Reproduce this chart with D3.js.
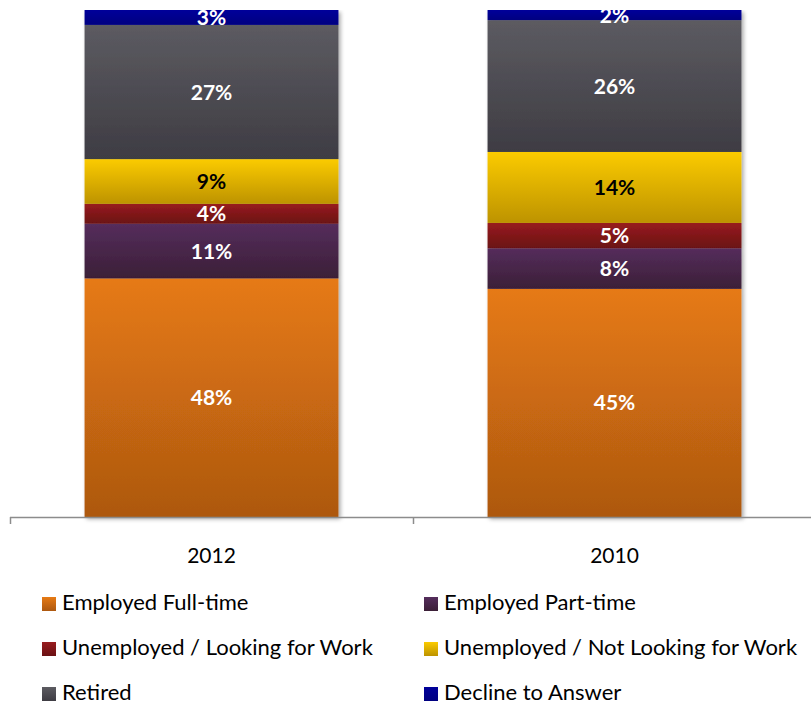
<!DOCTYPE html>
<html>
<head>
<meta charset="utf-8">
<script src="https://cdn.jsdelivr.net/npm/d3@7"></script>
<style>
  html, body { margin: 0; padding: 0; background: #fff; }
  svg { display: block; font-family: Lato, "Open Sans", sans-serif; }
</style>
</head>
<body>
<svg id="chart" width="811" height="704"></svg>
<script>
// Survey years (left to right) and employment status shares, in percent
const years = ["2012", "2010"];
const statuses = [
  "Employed Full-time",
  "Employed Part-time",
  "Unemployed / Looking for Work",
  "Unemployed / Not Looking for Work",
  "Retired",
  "Decline to Answer"
];
const employedFullTime    = [48, 45];
const employedPartTime    = [11, 8];
const unemployedLooking   = [4, 5];
const unemployedNotLooking = [9, 14];
const retired             = [27, 26];
const declineToAnswer     = [3, 2];

const seriesValues = [employedFullTime, employedPartTime, unemployedLooking,
                      unemployedNotLooking, retired, declineToAnswer];

// Gradient stops per status: [top, bottom]
const palette = [
  ["#e67a14", "#ad5810"],
  ["#552d5c", "#3b1f37"],
  ["#981c1f", "#6a1113"],
  ["#fbcb00", "#bd9300"],
  ["#5c5b61", "#3e3c43"],
  ["#00009a", "#000080"]
];
const labelInk = ["#fff", "#fff", "#fff", "#000", "#fff", "#fff"];

const rows = years.map((yr, i) => {
  const r = { year: yr };
  statuses.forEach((s, k) => { r[s] = seriesValues[k][i]; });
  return r;
});

const svg = d3.select("#chart");
const defs = svg.append("defs");

palette.forEach((c, k) => {
  const g = defs.append("linearGradient")
    .attr("id", "grad" + k)
    .attr("x1", 0).attr("y1", 0).attr("x2", 0).attr("y2", 1);
  g.append("stop").attr("offset", "0%").attr("stop-color", c[0]);
  g.append("stop").attr("offset", "100%").attr("stop-color", c[1]);
});

const shadow = defs.append("filter").attr("id", "barShadow")
  .attr("x", "-10%").attr("y", "-10%").attr("width", "130%").attr("height", "130%");
shadow.append("feDropShadow")
  .attr("dx", 2).attr("dy", 2).attr("stdDeviation", 2)
  .attr("flood-color", "#000").attr("flood-opacity", 0.35);

const plotTop = 10, baseline = 517;
defs.append("clipPath").attr("id", "plotClip")
  .append("rect").attr("x", 0).attr("y", plotTop).attr("width", 811).attr("height", baseline - plotTop + 10);

const x = d3.scaleBand().domain(years).range([10, 816]).paddingInner(0).paddingOuter(0);
const y = d3.scaleLinear().domain([0, 1]).range([baseline, plotTop]);
const barWidth = x.bandwidth() * 0.63;

const stacked = d3.stack().keys(statuses).offset(d3.stackOffsetExpand)(rows);

const plot = svg.append("g").attr("clip-path", "url(#plotClip)");

// Shadowed bar stacks
const barGroup = plot.append("g").attr("filter", "url(#barShadow)");
stacked.forEach((layer, k) => {
  barGroup.append("g").selectAll("rect")
    .data(layer)
    .join("rect")
    .attr("x", d => x(d.data.year) + (x.bandwidth() - barWidth) / 2)
    .attr("width", barWidth)
    .attr("y", d => y(d[1]))
    .attr("height", d => y(d[0]) - y(d[1]))
    .attr("fill", `url(#grad${k})`);
});

// Value labels centred in each segment
stacked.forEach((layer, k) => {
  plot.append("g").selectAll("text")
    .data(layer)
    .join("text")
    .attr("x", d => x(d.data.year) + x.bandwidth() / 2)
    .attr("y", d => (y(d[0]) + y(d[1])) / 2)
    .attr("dy", "0.36em")
    .attr("text-anchor", "middle")
    .attr("font-size", 21)
    .attr("font-weight", 700)
    .attr("fill", labelInk[k])
    .text(d => d.data[layer.key] + "%");
});

// Category axis with ticks at band boundaries
const axis = svg.append("g");
axis.append("line")
  .attr("x1", 10).attr("x2", 811)
  .attr("y1", baseline + 0.5).attr("y2", baseline + 0.5)
  .attr("stroke", "#8c8c8c").attr("stroke-width", 1.5);
const bounds = years.map(d => x(d)).concat([x.range()[1]]);
axis.selectAll("line.tick")
  .data(bounds)
  .join("line")
  .attr("class", "tick")
  .attr("x1", d => d + 0.5).attr("x2", d => d + 0.5)
  .attr("y1", baseline).attr("y2", baseline + 7)
  .attr("stroke", "#8c8c8c").attr("stroke-width", 1.5);
axis.selectAll("text")
  .data(years)
  .join("text")
  .attr("x", d => x(d) + x.bandwidth() / 2)
  .attr("y", 563)
  .attr("text-anchor", "middle")
  .attr("font-size", 21)
  .attr("fill", "#000")
  .text(d => d);

// Legend: two columns, three rows
const legendCols = [42, 424];
const legendRows = [610, 655, 700];
const legend = svg.append("g").selectAll("g")
  .data(statuses)
  .join("g")
  .attr("transform", (d, i) => `translate(${legendCols[i % 2]},${legendRows[Math.floor(i / 2)]})`);
legend.append("rect")
  .attr("x", 0).attr("y", -13).attr("width", 14).attr("height", 14)
  .attr("fill", (d, i) => `url(#grad${i})`);
legend.append("text")
  .attr("x", 20).attr("y", 0)
  .attr("font-size", 22)
  .attr("fill", "#000")
  .text(d => d);
</script>
</body>
</html>
